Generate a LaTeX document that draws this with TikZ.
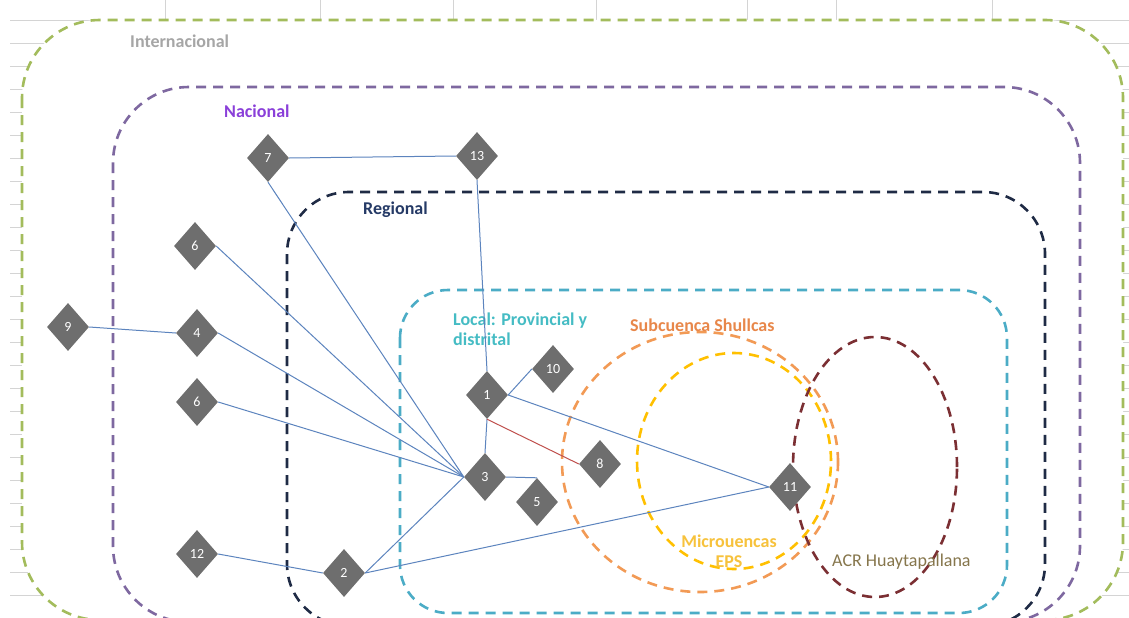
\documentclass[tikz,border=0pt]{standalone}
\usepackage{fontspec}
\setmainfont{Carlito}
\usetikzlibrary{shapes.geometric}
\definecolor{cInt}{HTML}{A3BC5C}
\definecolor{cIntT}{HTML}{A6A6A6}
\definecolor{cNac}{HTML}{7E68A0}
\definecolor{cNacT}{HTML}{8A3FD9}
\definecolor{cReg}{HTML}{1F2B45}
\definecolor{cRegT}{HTML}{253A66}
\definecolor{cLoc}{HTML}{4BACC6}
\definecolor{cLocT}{HTML}{45BCC4}
\definecolor{cSub}{HTML}{F29A55}
\definecolor{cSubT}{HTML}{E8874A}
\definecolor{cMic}{HTML}{FFC000}
\definecolor{cMicT}{HTML}{F7C23C}
\definecolor{cAcr}{HTML}{7B2F33}
\definecolor{cAcrT}{HTML}{86764C}
\definecolor{cDia}{HTML}{6E6E6E}
\definecolor{cEdge}{HTML}{5C84BE}
\definecolor{cRed}{HTML}{C0504D}
\definecolor{cGrid}{HTML}{D4D4D4}
\begin{document}
\begin{tikzpicture}[x=1pt,y=-1pt,
  zone/.style={line width=2.6pt,dash pattern=on 10pt off 7pt},
  zlabel/.style={font=\bfseries\fontsize{18}{20}\selectfont,anchor=west,inner sep=0pt,align=left},
  dia/.style={diamond,fill=cDia,draw=none,minimum width=42pt,minimum height=48pt,inner sep=0pt,
    text=white,font=\fontsize{14}{16}\selectfont},
  link/.style={draw=cEdge,line width=1pt},
  grid/.style={draw=cGrid,line width=0.6pt}]
\clip (0,0) rectangle (1129,618);
\fill[white] (0,0) rectangle (1129,618);
% spreadsheet grid lines
\foreach \yy in {20,43,...,618} \draw[grid] (10,\yy) -- (1129,\yy);
\foreach \xx in {165,320,453,596,747,836,992} \draw[grid] (\xx,0) -- (\xx,30);
\fill[white,rounded corners=78pt] (22,20) rectangle (1123,620);
% zones
\draw[zone,cInt,rounded corners=78pt] (22,20) rectangle (1123,620);
\draw[zone,cNac,rounded corners=76pt] (113,87) rectangle (1080,622);
\draw[zone,cReg,rounded corners=62pt] (287,192) rectangle (1045,626);
\draw[zone,cLoc,rounded corners=48pt] (400,290) rectangle (1007,613);
\draw[zone,cSub] (700,462) ellipse [x radius=138pt,y radius=130pt];
\draw[zone,cMic] (734,461) ellipse [x radius=97pt,y radius=108pt];
\draw[zone,cAcr] (875,467) ellipse [x radius=82pt,y radius=130pt];
% zone labels
\node[zlabel,text=cIntT] (lint) at (130,41) {Internacional};
\node[zlabel,text=cNacT] (lnac) at (224,111) {Nacional};
\node[zlabel,text=cRegT] (lreg) at (363,210) {Regional};
\node[zlabel,text=cLocT,anchor=north west] (lloc) at (453,313) {Local: Provincial y\\distrital};
\node[zlabel,text=cSubT] (lsub) at (630,325) {Subcuenca Shullcas};
\node[zlabel,text=cMicT,align=center,anchor=center] (lmic) at (729,551) {Microuencas\\EPS};
\node[zlabel,text=cAcrT,font=\fontsize{18}{20}\selectfont] (lacr) at (832,562) {ACR Huaytapallana};
% actors
\node[dia] (n7) at (268,158) {7};
\node[dia] (n13) at (477,156) {13};
\node[dia] (n6a) at (195,246) {6};
\node[dia] (n9) at (68,327) {9};
\node[dia] (n4) at (197,333) {4};
\node[dia] (n6b) at (197,402) {6};
\node[dia] (n12) at (197,554) {12};
\node[dia] (n1) at (487,395) {1};
\node[dia] (n10) at (553,369) {10};
\node[dia] (n8) at (600,464) {8};
\node[dia] (n3) at (485,477) {3};
\node[dia] (n5) at (537,502) {5};
\node[dia] (n2) at (344,573) {2};
\node[dia] (n11) at (790,487) {11};
% links
\draw[link] (n7.east) -- (n13.west);
\draw[link] (n13.south) -- (n1.north);
\draw[link] (n7.south) -- (n3.west);
\draw[link] (n6a.east) -- (n3.west);
\draw[link] (n4.east) -- (n3.west);
\draw[link] (n6b.east) -- (n3.west);
\draw[link] (n9.east) -- (n4.west);
\draw[link] (n12.east) -- (n2.west);
\draw[link] (n2.east) -- (n3.west);
\draw[link] (n2.east) -- (n11.west);
\draw[link] (n1.east) -- (n10.west);
\draw[link] (n1.east) -- (n11.west);
\draw[link] (n1.south) -- (n3.north);
\draw[link] (n3.east) -- (n5.north);
\draw[draw=cRed,line width=1pt] (n1.south) -- (n8.west);
\end{tikzpicture}
\end{document}
